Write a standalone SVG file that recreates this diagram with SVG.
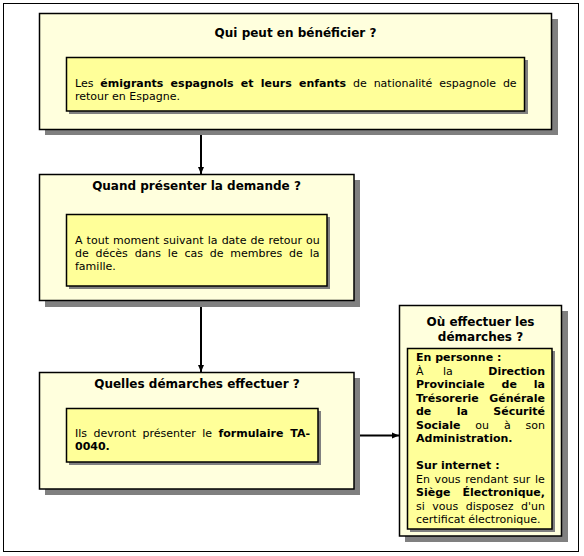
<svg xmlns="http://www.w3.org/2000/svg" width="584" height="556" viewBox="0 0 584 556">
<style>
.frame{fill:#fff;stroke:#000;stroke-width:1}
.outer{fill:#FFFFDD;stroke:#000;stroke-width:1.5}
.inner{fill:#FFFF99;stroke:#000;stroke-width:1.5}
.shadow{fill:#808080}
.title{font-family:"DejaVu Sans",Verdana,sans-serif;font-size:12px;font-weight:bold;fill:#000;text-anchor:middle}
.body{font-family:"DejaVu Sans",Verdana,sans-serif;font-size:11px;fill:#000}
.b{font-weight:bold}
.conn{stroke:#000;stroke-width:2;fill:none}
</style>
<defs>
<marker id="arr" markerUnits="userSpaceOnUse" markerWidth="7" markerHeight="7" viewBox="0 0 7 7" refX="7" refY="3.5" orient="auto">
<path d="M0,0.5 L7,3.5 L0,6.5 z" fill="#000"/>
</marker>
</defs>
<rect class="frame" x="3.5" y="3.5" width="575" height="548"/>

<g id="connectors">
<line class="conn" x1="201" y1="130" x2="201" y2="174" marker-end="url(#arr)"/>
<line class="conn" x1="201" y1="301" x2="201" y2="372" marker-end="url(#arr)"/>
<line class="conn" x1="355" y1="435.5" x2="399" y2="435.5" marker-end="url(#arr)"/>
</g>

<g id="node-beneficiaires">
<rect class="shadow" x="45" y="19" width="513" height="116"/>
<rect class="outer" x="39.5" y="13.5" width="512" height="116"/>
<text class="title" x="295.5" y="37">Qui peut en bénéficier ?</text>
<rect class="shadow" x="69" y="60" width="459" height="54"/>
<rect class="inner" x="66.5" y="57.5" width="458" height="53.5"/>
<text class="body" x="75" y="87" style="word-spacing:3.4px">Les <tspan class="b">émigrants espagnols et leurs enfants</tspan> de nationalité espagnole de</text>
<text class="body" x="75" y="100">retour en Espagne.</text>
</g>

<g id="node-quand">
<rect class="shadow" x="45" y="180" width="315" height="127"/>
<rect class="outer" x="39.5" y="174.5" width="314.5" height="126"/>
<text class="title" x="196.5" y="190">Quand présenter la demande ?</text>
<rect class="shadow" x="69" y="217" width="261" height="72"/>
<rect class="inner" x="66.5" y="214.5" width="260.5" height="71.5"/>
<text class="body" x="75" y="244" style="word-spacing:0.6px">A tout moment suivant la date de retour ou</text>
<text class="body" x="75" y="257" style="word-spacing:3.3px">de décès dans le cas de membres de la</text>
<text class="body" x="75" y="270">famille.</text>
</g>

<g id="node-demarches">
<rect class="shadow" x="45" y="378" width="315" height="117"/>
<rect class="outer" x="39.5" y="372.5" width="314.5" height="116.5"/>
<text class="title" x="197" y="388">Quelles démarches effectuer ?</text>
<rect class="shadow" x="69" y="411" width="252" height="54"/>
<rect class="inner" x="66.5" y="408.5" width="251.5" height="53.5"/>
<text class="body" x="75" y="437" style="word-spacing:3px">Ils devront présenter le <tspan class="b">formulaire TA-</tspan></text>
<text class="body b" x="75" y="450">0040.</text>
</g>

<g id="node-ou">
<rect class="shadow" x="405" y="311" width="163" height="231"/>
<rect class="outer" x="399.5" y="305.5" width="162" height="230.5"/>
<text class="title" x="480.5" y="326">Où effectuer les</text>
<text class="title" x="480.5" y="341">démarches ?</text>
<rect class="shadow" x="410" y="351" width="145" height="181"/>
<rect class="inner" x="407.5" y="348.5" width="144.5" height="180.5"/>
<text class="body b" x="416" y="361">En personne :</text>
<text class="body" y="374.5"><tspan x="416">À</tspan><tspan x="443">la</tspan><tspan x="545" class="b" text-anchor="end">Direction</tspan></text>
<text class="body b" y="388"><tspan x="416">Provinciale</tspan><tspan x="501.6">de</tspan><tspan x="545" text-anchor="end">la</tspan></text>
<text class="body b" y="401.5"><tspan x="416">Trésorerie</tspan><tspan x="545" text-anchor="end">Générale</tspan></text>
<text class="body b" y="415"><tspan x="416">de</tspan><tspan x="456.8">la</tspan><tspan x="545" text-anchor="end">Sécurité</tspan></text>
<text class="body" y="428.5"><tspan x="416" class="b">Sociale</tspan><tspan x="475.3">ou</tspan><tspan x="503.9">à</tspan><tspan x="545" text-anchor="end">son</tspan></text>
<text class="body b" x="416" y="442">Administration.</text>
<text class="body b" x="416" y="469">Sur internet :</text>
<text class="body" x="416" y="482.5" style="word-spacing:1.2px">En vous rendant sur le</text>
<text class="body b" y="496"><tspan x="416">Siège</tspan><tspan x="545" text-anchor="end">Électronique,</tspan></text>
<text class="body" x="416" y="509.5" style="word-spacing:4px">si vous disposez d'un</text>
<text class="body" x="416" y="523">certificat électronique.</text>
</g>
</svg>
